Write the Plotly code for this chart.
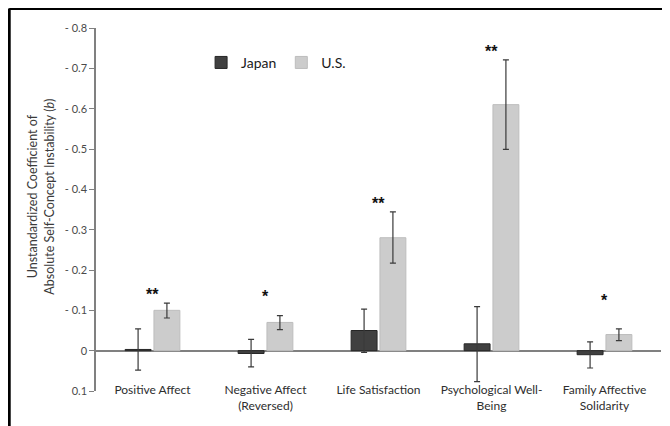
import plotly.graph_objects as go

categories = ["Positive Affect", "Negative Affect<br>(Reversed)", "Life Satisfaction",
              "Psychological Well-<br>Being", "Family Affective<br>Solidarity"]

japan = [-0.003, 0.007, -0.05, -0.017, 0.01]
japan_low = [-0.054, -0.028, -0.103, -0.109, -0.022]
japan_high = [0.048, 0.040, 0.004, 0.077, 0.043]

us = [-0.10, -0.07, -0.28, -0.61, -0.04]
us_low = [-0.118, -0.087, -0.344, -0.721, -0.054]
us_high = [-0.081, -0.052, -0.217, -0.499, -0.025]

stars = ["**", "*", "**", "**", "*"]
star_y = [-0.15, -0.143, -0.375, -0.752, -0.134]

y_tickvals = [-0.8, -0.7, -0.6, -0.5, -0.4, -0.3, -0.2, -0.1, 0, 0.1]
y_ticktext = ["- 0.8", "- 0.7", "- 0.6", "- 0.5", "- 0.4", "- 0.3", "- 0.2", "- 0.1", "0", "0.1"]

FONT = "Lato, Open Sans, sans-serif"
TXT = "#2e2e2e"

fig = go.Figure()
fig.add_trace(go.Bar(
    name="Japan", x=categories, y=japan,
    marker=dict(color="#404040", line=dict(color="#262626", width=1)),
    error_y=dict(type="data", symmetric=False,
                 array=[h - v for h, v in zip(japan_high, japan)],
                 arrayminus=[v - l for l, v in zip(japan_low, japan)],
                 color="#3a3a3a", thickness=1.2, width=3),
))
fig.add_trace(go.Bar(
    name="U.S.", x=categories, y=us,
    marker=dict(color="#cccccc", line=dict(color="#bdbdbd", width=1)),
    error_y=dict(type="data", symmetric=False,
                 array=[h - v for h, v in zip(us_high, us)],
                 arrayminus=[v - l for l, v in zip(us_low, us)],
                 color="#3a3a3a", thickness=1.2, width=3),
))

for c, s, yy in zip(categories, stars, star_y):
    fig.add_annotation(x=c, y=yy, text="<b>" + s + "</b>", showarrow=False, yshift=-4,
                       font=dict(family="Arial", size=16, color="#111111"))

# y-axis title
fig.add_annotation(xref="paper", yref="paper", x=-0.0982, y=0.534,
                   text="Unstandardized Coefficient of<br>Absolute Self-Concept Instability (<i>b</i>)",
                   textangle=-90, showarrow=False, xanchor="center", yanchor="middle",
                   font=dict(family=FONT, size=12.5, color="#3a3a3a"))

# frame lines (top and left border of the image)
fig.add_shape(type="line", xref="paper", yref="paper", x0=-0.1536, x1=1.04, y0=1.0537, y1=1.0537,
              line=dict(color="black", width=3))
fig.add_shape(type="line", xref="paper", yref="paper", x0=-0.1536, x1=-0.1536, y0=1.0537, y1=-0.13,
              line=dict(color="black", width=3))

fig.update_layout(
    width=670, height=426,
    margin=dict(l=88, r=17, t=20, b=43),
    paper_bgcolor="white", plot_bgcolor="white",
    font=dict(family=FONT, color=TXT),
    barmode="group", bargap=0.49, bargroupgap=0.1,
    showlegend=True,
    legend=dict(orientation="h", x=0.186, y=0.904, xanchor="left", yanchor="middle",
                font=dict(family=FONT, size=14, color="#1a1a1a"),
                bgcolor="rgba(0,0,0,0)", itemwidth=30),
)
fig.update_xaxes(showline=False, showgrid=False, ticks="", zeroline=False,
                 tickfont=dict(family=FONT, size=12, color=TXT),
                 ticklabelstandoff=-10)
fig.update_yaxes(range=[0.1, -0.8], autorange=False,
                 tickvals=y_tickvals, ticktext=y_ticktext,
                 showline=True, linecolor="#808080", linewidth=1.5,
                 ticks="outside", ticklen=5, tickcolor="#808080", tickwidth=1.2,
                 showgrid=False, zeroline=True, zerolinecolor="#808080", zerolinewidth=1.5,
                 tickfont=dict(family=FONT, size=11, color="#4a4a4a"))

fig.write_html("out.html")
